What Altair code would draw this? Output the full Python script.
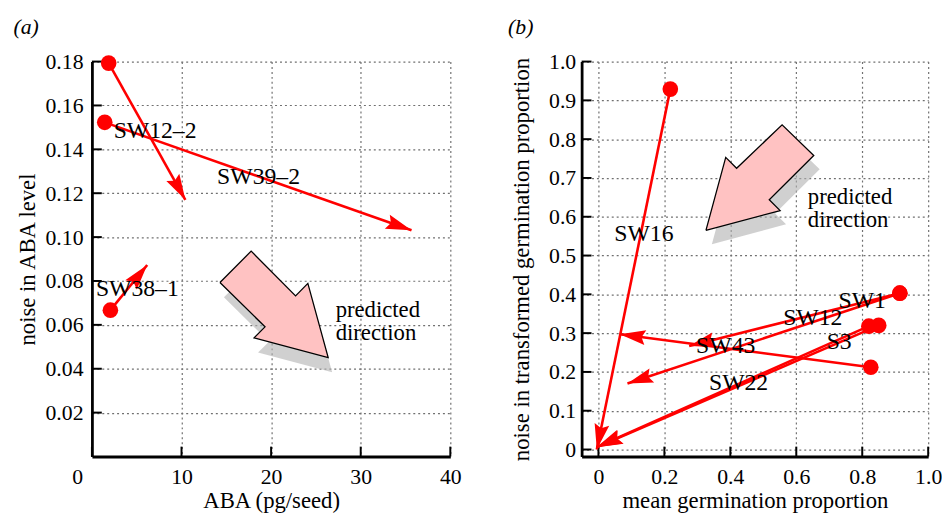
import math
import altair as alt
import pandas as pd

FONT = "Liberation Serif"
RED = "#ff0000"
PINK = "#ffc2c2"

# ---------------- panel (a) data ----------------
a_x_ticks = [0, 10, 20, 30, 40]
a_y_ticks = [0.02, 0.04, 0.06, 0.08, 0.10, 0.12, 0.14, 0.16, 0.18]
a_start_x = [1.87, 1.43, 2.06]
a_start_y = [0.1793, 0.1523, 0.0667]
a_end_x = [10.43, 35.67, 6.17]
a_end_y = [0.1170, 0.1031, 0.0873]
a_names = ["SW12–2", "SW39–2", "SW38–1"]
a_name_x = [7.05, 18.6, 5.07]
a_name_y = [0.1485, 0.1274, 0.0765]
a_big_x = [14.29, 17.77, 22.73, 24.10, 26.37, 18.10, 19.32]
a_big_y = [0.0793, 0.0936, 0.0732, 0.0789, 0.0451, 0.0541, 0.0591]
a_note = ["predicted", "direction"]
a_note_x = 27.2
a_note_y = 0.0668

# ---------------- panel (b) data ----------------
b_x_ticks = [0, 0.2, 0.4, 0.6, 0.8, 1.0]
b_y_ticks = [0, 0.1, 0.2, 0.3, 0.4, 0.5, 0.6, 0.7, 0.8, 0.9, 1.0]
b_start_x = [0.218, 0.914, 0.914, 0.826, 0.820, 0.850]
b_start_y = [0.929, 0.403, 0.403, 0.212, 0.318, 0.320]
b_end_x = [-0.005, 0.088, 0.275, 0.065, -0.006, -0.004]
b_end_y = [0.000, 0.170, 0.267, 0.297, 0.006, 0.006]
b_names = ["SW16", "SW1", "SW12", "S3", "SW43", "SW22"]
b_name_x = [0.138, 0.80, 0.65, 0.73, 0.386, 0.425]
b_name_y = [0.555, 0.382, 0.338, 0.277, 0.267, 0.170]
b_big_x = [0.326, 0.386, 0.419, 0.557, 0.653, 0.518, 0.551]
b_big_y = [0.565, 0.753, 0.725, 0.837, 0.758, 0.644, 0.616]
b_note = ["predicted", "direction"]
b_note_x = 0.635
b_note_y = 0.651

HEAD = "M0,0 L-1,-0.29 L-0.85,0 L-1,0.29 Z"


def panel(W, H, xdom, ydom, xt, yt, xlab, ylab, xtitle, ytitle, ttl,
          sx0, sy0, ex, ey, names, nx, ny, bx, by, note, notex, notey,
          ylabpad, ytitlepad, xlaboffset, shadow_off):
    kx = W / (xdom[1] - xdom[0])
    ky = H / (ydom[1] - ydom[0])

    seg_rows, head_rows, pt_rows = [], [], []
    for i in range(len(sx0)):
        seg_rows.append({"x": sx0[i], "y": sy0[i], "id": i, "o": 0})
        seg_rows.append({"x": ex[i], "y": ey[i], "id": i, "o": 1})
        dx = (ex[i] - sx0[i]) * kx
        dy = -(ey[i] - sy0[i]) * ky
        ang = math.degrees(math.atan2(dy, dx)) % 360
        head_rows.append({"x": ex[i], "y": ey[i], "a": ang})
        pt_rows.append({"x": sx0[i], "y": sy0[i]})
    seg = pd.DataFrame(seg_rows)
    heads = pd.DataFrame(head_rows)
    pts = pd.DataFrame(pt_rows)

    poly = pd.DataFrame({"x": bx + [bx[0]], "y": by + [by[0]],
                         "o": list(range(len(bx) + 1))})
    labels = pd.DataFrame({"x": nx, "y": ny, "t": names})
    notes = pd.DataFrame({"x": [notex], "y": [notey], "t": ["\n".join(note)]})
    xticks = pd.DataFrame({"xv": xt})
    yticks = pd.DataFrame({"yv": yt})

    X = alt.X("x:Q", title=xtitle,
              scale=alt.Scale(domain=xdom, nice=False, zero=False),
              axis=alt.Axis(values=xt, labelExpr=xlab, labelPadding=10,
                            titlePadding=3, labelOffset=xlaboffset,
                            labelOverlap=False, tickCount=len(xt)))
    Y = alt.Y("y:Q", title=ytitle,
              scale=alt.Scale(domain=ydom, nice=False, zero=False),
              axis=alt.Axis(values=yt, labelExpr=ylab, labelPadding=ylabpad,
                            titlePadding=ytitlepad, labelOverlap=False,
                            tickCount=len(yt)))

    shadow = alt.Chart(poly).mark_line(
        fill="#b0b0b0", fillOpacity=0.6, strokeWidth=0, strokeOpacity=0,
        xOffset=shadow_off[0], yOffset=shadow_off[1]
    ).encode(x=X, y=Y, order="o:Q")
    big = alt.Chart(poly).mark_line(
        fill=PINK, stroke="black", strokeWidth=1.3
    ).encode(x="x:Q", y="y:Q", order="o:Q")

    xt_rule = alt.Chart(xticks).mark_rule(color="black", strokeWidth=2).encode(
        x=alt.X("xv:Q", title=xtitle), y=alt.value(H), y2=alt.value(H - 10))
    yt_rule = alt.Chart(yticks).mark_rule(color="black", strokeWidth=2).encode(
        y=alt.Y("yv:Q", title=ytitle), x=alt.value(0), x2=alt.value(10))

    lines = alt.Chart(seg).mark_line(color=RED, strokeWidth=2.6).encode(
        x="x:Q", y="y:Q", detail="id:N", order="o:Q")
    hd = alt.Chart(heads).mark_point(
        shape=HEAD, filled=True, color=RED, opacity=1, size=2700
    ).encode(x="x:Q", y="y:Q", angle=alt.Angle("a:Q", scale=None))
    dots = alt.Chart(pts).mark_circle(color=RED, opacity=1, size=250).encode(
        x="x:Q", y="y:Q")
    txt = alt.Chart(labels).mark_text(
        font=FONT, fontSize=24, color="black", align="center", baseline="middle"
    ).encode(x="x:Q", y="y:Q", text="t:N")
    ntxt = alt.Chart(notes).mark_text(
        font=FONT, fontSize=23, color="black", align="left", baseline="middle",
        lineBreak="\n", lineHeight=23
    ).encode(x="x:Q", y="y:Q", text="t:N")

    return alt.layer(shadow, big, xt_rule, yt_rule, lines, hd, dots, txt, ntxt).properties(
        width=W, height=H,
        title=alt.TitleParams(ttl, anchor="start", font=FONT, fontSize=22,
                              fontStyle="italic", fontWeight="normal",
                              offset=12, color="black", dx=-3))


pa = panel(363, 400, [0, 40], [0, 0.18], a_x_ticks, a_y_ticks,
           "format(datum.value, 'd')", "format(datum.value, '.2f')",
           "ABA (pg/seed)", "noise in ABA level", "(a)",
           a_start_x, a_start_y, a_end_x, a_end_y, a_names, a_name_x, a_name_y,
           a_big_x, a_big_y, a_note, a_note_x, a_note_y,
           9, 6, {"condition": {"test": "datum.value === 0", "value": -15}, "value": 0},
           (4, 15))

b_fmt = "datum.value == 0 ? '0' : format(datum.value, '.1f')"
pb = panel(351, 400, [-0.051, 1.0], [-0.018, 1.0], b_x_ticks, b_y_ticks,
           b_fmt, b_fmt,
           "mean germination proportion",
           "noise in transformed germination proportion", "(b)",
           b_start_x, b_start_y, b_end_x, b_end_y, b_names, b_name_x, b_name_y,
           b_big_x, b_big_y, b_note, b_note_x, b_note_y,
           6, 15, 0, (6, 14))

chart = alt.hconcat(pa, pb, spacing=47).properties(
    padding={"left": 5, "top": 5, "right": 0, "bottom": 0}
).configure_view(stroke=None).configure_axis(
    domainColor="black", domainWidth=2.8, grid=True, gridColor="#707070",
    gridDash=[2, 3], gridWidth=1.2, ticks=False, labelFont=FONT, labelFontSize=22,
    titleFont=FONT, titleFontSize=23, titleFontWeight="normal",
    labelColor="black", titleColor="black", labelFlush=False, labelOverlap=False
)

chart.save("out.html", embed_options={"renderer": "svg", "actions": False})
